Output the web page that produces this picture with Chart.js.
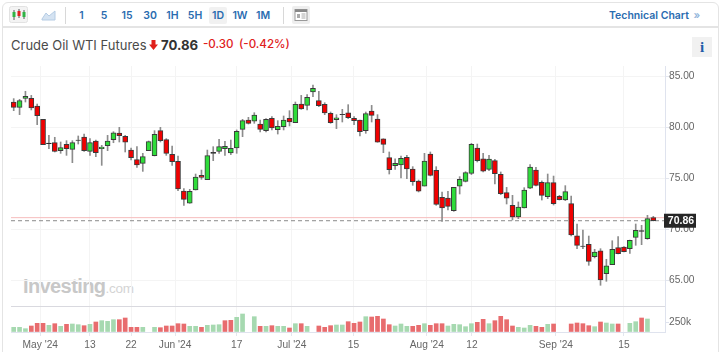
<!DOCTYPE html>
<html><head><meta charset="utf-8">
<script src="https://cdn.jsdelivr.net/npm/chart.js@4"></script>
<style>
html,body{margin:0;padding:0;background:#fff;width:723px;height:352px;overflow:hidden;font-family:Inter,"Liberation Sans",sans-serif}
#frame{position:absolute;left:2px;top:2px;width:717px;height:360px;border:1px solid #e4e4e4;border-radius:6px;box-sizing:border-box}
#bar{position:absolute;left:3px;top:26px;width:715px;height:2px;background:#e4e4e4}
.t{position:absolute;white-space:nowrap}
.iv{top:9px;font-size:10.5px;font-weight:600;color:#2a6cb0;transform:translateX(-50%)}
.sep{position:absolute;top:7px;width:1px;height:17px;background:#d8d8d8}
#c{position:absolute;left:0;top:0}
</style></head><body>
<div id="frame"></div><div id="bar"></div>
<svg class="t" style="left:9px;top:6px" width="20" height="20"><rect x="0.5" y="0.5" width="18" height="16" rx="2" fill="#f3f3f3" stroke="#e2e2e2"/><g stroke="#555"><path d="M5 4v10M10 3v9M15 4v9"/></g><rect x="3.5" y="6" width="3" height="5" fill="#2fb344"/><rect x="8.5" y="5" width="3" height="5" fill="#e02020"/><rect x="13.5" y="6" width="3" height="5" fill="#2fb344"/></svg>
<svg class="t" style="left:41px;top:9px" width="16" height="12"><path d="M1 10 L5 4 L8 7 L14 2 V11 H1Z" fill="#d5e3f2" stroke="#b5cce4"/></svg>
<div class="sep" style="left:65px"></div>
<div class="t" style="left:209px;top:7px;width:18px;height:17px;background:#f1f1f1;border-radius:2px"></div>
<div class="t iv" style="left:81.5px">1</div><div class="t iv" style="left:104px">5</div><div class="t iv" style="left:127px">15</div><div class="t iv" style="left:150px">30</div><div class="t iv" style="left:172.5px">1H</div><div class="t iv" style="left:195px">5H</div><div class="t iv" style="left:218px">1D</div><div class="t iv" style="left:240px">1W</div><div class="t iv" style="left:263px">1M</div>
<div class="sep" style="left:283px"></div>
<svg class="t" style="left:292px;top:6px" width="18" height="18"><rect width="18" height="18" rx="2" fill="#eee"/><rect x="3" y="3.5" width="12" height="11" fill="#fff" stroke="#999"/><rect x="3" y="3.5" width="12" height="2.5" fill="#888"/><path d="M5 8h3v4H5z" fill="#aaa"/><path d="M9.5 8h4M9.5 10h4M9.5 12h4" stroke="#aaa"/></svg>
<div class="t" style="left:609px;top:9px;font-size:10.5px;font-weight:600;color:#2a6cb0">Technical Chart <span style="color:#8fb4da;margin-left:2px">»</span></div>
<div class="t" style="left:11px;top:37px;font-size:13px;color:#4a4a4a">Crude Oil WTI Futures</div>
<svg class="t" style="left:149px;top:40px" width="9" height="10"><path d="M2.5 0h4v4.5H9L4.5 10 0 4.5h2.5z" fill="#e0201b"/></svg>
<div class="t" style="left:161px;top:37px;font-size:13.2px;font-weight:700;color:#333">70.86</div>
<div class="t" style="left:203px;top:37px;font-size:11.6px;font-weight:500;color:#e0201b">-0.30</div>
<div class="t" style="left:239px;top:37px;font-size:11.6px;font-weight:500;color:#e0201b">(-0.42%)</div>
<div class="t" style="left:692px;top:37px;width:20px;height:20px;background:#f1f1f1;text-align:center;font:bold 15px/20px 'Liberation Serif',serif;color:#1f5ca8">i</div>
<div class="t" style="left:23px;top:275px;font:bold 20px 'Liberation Sans',sans-serif;letter-spacing:-.6px;color:#c8c8c8">Investing<span style="font-weight:400;color:#d4d4d4;font-size:13.5px;letter-spacing:-.2px">.com</span></div>
<canvas id="c" width="723" height="352"></canvas>
<script>
const priceOpen=[82.50,81.98,82.86,82.86,82.11,80.80,78.48,78.51,77.73,78.35,77.86,78.77,79.07,77.66,78.68,77.92,78.22,78.81,79.46,79.13,77.79,76.85,76.49,77.73,77.24,79.69,78.81,77.37,76.68,73.77,72.57,73.87,75.31,74.89,77.57,77.66,77.92,77.50,77.99,79.82,80.74,80.61,80.34,79.69,80.90,79.79,80.08,80.90,80.47,82.30,82.17,83.48,82.63,82.27,81.39,80.77,81.29,81.45,80.90,80.74,79.69,81.62,80.83,78.90,77.04,76.26,76.32,77.07,75.93,74.75,74.26,77.40,75.80,73.15,73.09,71.85,74.26,74.72,75.51,77.99,76.94,75.90,76.75,75.41,73.61,72.37,71.23,72.11,74.04,75.83,74.62,73.22,74.59,73.25,72.89,72.53,69.39,68.38,68.55,67.34,67.92,65.67,66.55,68.22,68.28,68.12,69.23,69.82,69.10,71.16];
const priceHigh=[82.83,82.76,83.55,83.15,82.30,80.80,79.23,79.04,78.58,78.71,78.71,79.17,79.36,78.91,78.77,78.25,79.23,79.59,80.02,79.23,77.99,78.12,77.47,78.68,79.69,80.02,78.91,78.19,77.21,74.00,73.94,75.44,75.83,77.79,78.12,78.84,78.64,78.77,79.76,80.80,81.00,81.45,80.74,80.87,81.06,80.67,81.13,81.65,82.50,83.15,83.22,84.17,83.55,82.43,81.52,81.26,81.78,82.24,81.06,80.74,81.52,82.17,81.26,78.90,77.60,76.94,77.21,77.27,76.16,74.85,77.47,77.60,76.16,73.68,73.74,74.13,75.18,75.67,78.45,78.38,77.47,77.27,76.88,75.64,74.13,73.35,72.70,74.10,76.36,76.09,74.76,75.44,75.24,73.35,74.30,73.28,70.54,69.95,69.36,68.06,68.12,67.08,68.90,69.30,68.32,68.97,70.54,70.41,71.39,71.29];
const priceLow=[81.65,81.26,82.50,81.72,80.28,78.32,77.92,77.60,77.47,77.27,76.55,78.38,77.66,77.27,77.14,76.29,77.73,78.51,78.58,77.60,76.81,76.09,75.70,77.73,77.21,78.58,77.27,76.29,73.81,72.37,72.57,73.87,74.92,74.89,76.75,77.47,77.27,77.34,77.47,79.10,80.34,80.41,79.56,79.56,79.76,79.36,79.76,80.15,80.47,81.78,81.72,83.02,82.04,81.26,80.41,79.89,80.54,80.87,80.28,79.17,79.43,80.54,78.55,77.53,75.44,75.90,75.05,74.98,74.33,73.68,74.26,75.25,72.37,70.80,71.91,71.78,73.48,74.66,75.38,76.62,75.64,75.77,74.46,73.41,72.50,70.93,71.06,72.11,74.00,74.27,72.89,73.02,72.40,72.89,72.83,69.36,68.12,68.12,66.49,67.21,64.53,64.92,66.55,67.60,67.79,67.66,68.45,68.51,69.04,70.84];
const priceClose=[81.98,82.63,83.06,81.91,81.16,78.32,78.41,77.66,78.02,77.92,78.51,78.74,77.73,78.51,77.53,78.09,78.68,79.49,79.20,78.55,77.04,76.32,77.14,78.61,79.33,78.71,77.47,76.65,73.97,72.96,73.74,75.15,75.11,77.24,77.47,78.12,78.15,77.96,79.62,80.67,80.41,81.23,79.82,80.80,79.95,80.12,80.74,80.54,82.27,81.81,82.96,83.84,82.14,81.42,80.47,80.96,81.26,80.96,80.67,79.59,81.36,81.19,78.55,78.35,75.87,76.49,76.98,75.93,74.69,73.77,76.72,75.31,72.47,72.11,72.27,74.13,74.92,75.57,78.35,76.75,75.73,76.91,75.47,73.51,73.06,71.23,72.21,73.87,76.13,74.33,73.35,74.59,72.53,72.92,73.71,69.46,68.44,68.35,66.88,67.79,65.05,66.45,68.06,67.63,67.83,68.94,69.92,69.89,71.06,70.86];
const volumeK=[117,117,83,150,217,217,167,208,142,192,200,183,158,192,250,283,267,308,308,350,117,117,117,null,117,108,150,150,208,200,142,142,117,167,175,183,283,292,367,450,null,383,142,142,158,142,142,100,208,208,142,null,150,117,158,175,175,258,217,250,383,375,392,325,183,150,200,142,142,167,208,167,208,208,150,192,183,133,208,242,317,208,283,392,308,150,117,100,167,142,117,192,200,null,null,200,225,208,158,133,250,225,200,200,null,217,258,350,325,null];
const volumeDir="gggrrrgrgrggrgrgggrrrrg-grrrrrggrgggrrgg-grgrggrgrg-rrrggrrrgrrrrgggrrgrrrgggggrrgrrrrgggrrgr--rrrrgrggr-ggrg-".split("");
const dojiCandles=[7,12,35,57,98,108];
const tickIndex=[4.53,13,20,27.5,38,47.4,57.9,70.4,78.1,92.4,104];
const tickLabels=["May '24","13","22","Jun '24","17","Jul '24","15","Aug '24","12","Sep '24","15"];
const priceTicks=[65,70,75,80,85];
const volumeTicks=[0,250,650];
const lastPrice=70.86, prevClose=71.16;
const xMin=-0.46,xMax=110.99;

const UP='#2fdc3a',DOWN='#f00000',DOJI='#111';
const AXIS={family:'"Liberation Sans"',size:10.2};
const idx=priceOpen.map((_,i)=>i);
const isDoji=i=>dojiCandles.includes(i+1);
const tag={id:'tag',afterDraw(ch){const s=ch.scales.y,g=ch.ctx,y=s.getPixelForValue(lastPrice),t=lastPrice.toFixed(2);
 g.save();g.fillStyle='#262626';g.fillRect(664,y-7,32,14);g.fillStyle='#fff';g.font='bold 10.5px "Liberation Sans"';g.textAlign='center';g.textBaseline='middle';g.fillText(t,681,y+.5);g.restore();}};
new Chart(document.getElementById('c'),{
 type:'bar',
 data:{datasets:[
  {type:'line',order:6,xAxisID:'x',yAxisID:'y',data:[{x:xMin,y:prevClose},{x:xMax,y:prevClose}],borderColor:'#f6bcbc',borderWidth:1,pointRadius:0},
  {type:'line',order:5,xAxisID:'x',yAxisID:'y',data:[{x:xMin,y:lastPrice},{x:xMax,y:lastPrice}],borderColor:'#8a8a8a',borderWidth:1,borderDash:[4,3],pointRadius:0},
  {order:4,grouped:false,xAxisID:'x',yAxisID:'y',data:idx.map(i=>({x:i,y:[priceLow[i],priceHigh[i]]})),barThickness:1,backgroundColor:'#8c8c8c',borderWidth:0},
  {order:3,grouped:false,xAxisID:'x',yAxisID:'y',data:idx.map(i=>({x:i,y:[priceOpen[i],priceClose[i]]})),barThickness:5,
   backgroundColor:idx.map(i=>isDoji(i)?DOJI:(priceClose[i]>priceOpen[i]?UP:DOWN)),borderColor:'#3a3a3a',borderWidth:1,borderSkipped:false},
  {order:2,grouped:false,xAxisID:'x',yAxisID:'v',data:idx.map(i=>({x:i,y:volumeK[i]})),barThickness:4,
   backgroundColor:idx.map(i=>volumeDir[i]==='g'?'#a6d9b0':'#e86c6e'),borderWidth:0}
 ]},
 options:{animation:false,responsive:false,
  layout:{padding:{left:11,top:66,right:0,bottom:0}},
  plugins:{legend:{display:false},tooltip:{enabled:false}},
  scales:{
   x:{type:'linear',offset:false,min:xMin,max:xMax,position:'bottom',
    afterBuildTicks:s=>{s.ticks=tickIndex.map(value=>({value}))},
    afterFit:s=>{s.height=20},
    grid:{offset:false,color:'#f4f4f4',tickLength:4,tickColor:'#e3e6ee'},border:{color:'#dfe3ee'},
    ticks:{autoSkip:false,maxRotation:0,padding:3,color:'#666',font:AXIS,callback:v=>tickLabels[tickIndex.indexOf(v)]}},
   y:{type:'linear',position:'right',stack:'p',stackWeight:240,weight:1,min:62.5,max:86.03,
    afterBuildTicks:s=>{s.ticks=priceTicks.map(value=>({value}))},
    afterFit:s=>{s.width=58},
    grid:{color:'#f4f4f4',tickLength:4,tickColor:'#e3e6ee'},border:{color:'#dfe3ee'},
    ticks:{autoSkip:false,padding:0,color:'#666',font:AXIS,callback:v=>v.toFixed(2)}},
   v:{type:'linear',position:'right',stack:'p',stackWeight:26,weight:2,min:0,max:650,
    afterBuildTicks:s=>{s.ticks=volumeTicks.map(value=>({value}))},
    afterFit:s=>{s.width=58},
    grid:{color:c=>c.tick&&c.tick.value===650?'#d9d9df':(c.tick&&c.tick.value===0?'#dfe3ee':'transparent'),tickLength:4,tickColor:c=>c.tick&&c.tick.value===250?'#dfe3ee':'transparent'},border:{color:'#dfe3ee'},
    ticks:{autoSkip:false,padding:0,color:'#666',font:AXIS,callback:v=>v===250?'250k':''}}
  }},
 plugins:[tag]
});
</script>
</body></html>
